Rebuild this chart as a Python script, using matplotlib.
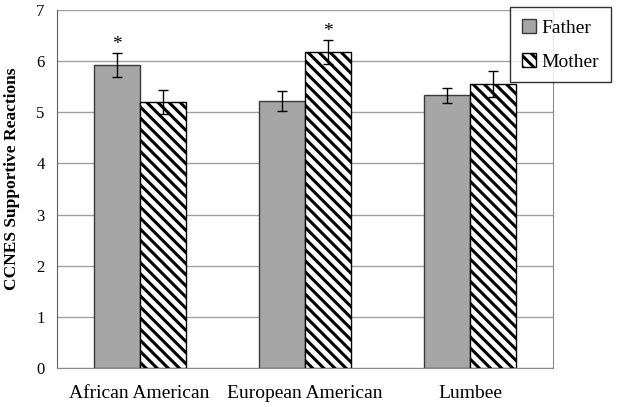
import numpy as np
import matplotlib
matplotlib.use("Agg")
import matplotlib.pyplot as plt

groups = ["African American", "European American", "Lumbee"]
father = [5.92, 5.22, 5.33]
mother = [5.20, 6.18, 5.55]
father_err = [0.23, 0.20, 0.14]
mother_err = [0.23, 0.23, 0.26]
father_sig = [True, False, False]
mother_sig = [False, True, False]

plt.rcParams['font.family'] = ['Liberation Serif', 'DejaVu Serif']
plt.rcParams['hatch.linewidth'] = 2.2

fig = plt.figure(figsize=(6.21, 4.07), dpi=100)
ax = fig.add_axes([0.0918, 0.0958, 0.7987, 0.8796])

x = np.arange(len(groups))
w = 0.278
b1 = ax.bar(x - w / 2, father, w, color="#a6a6a6", edgecolor="#3a3a3a", linewidth=1.0,
            label="Father", zorder=3)
b2 = ax.bar(x + w / 2, mother, w, color="white", edgecolor="black", hatch="\\\\\\",
            linewidth=1.0, label="Mother", zorder=3)

ax.errorbar(x - w / 2, father, yerr=father_err, fmt="none", ecolor="black",
            elinewidth=1.0, capsize=3.5, capthick=1.0, zorder=4)
ax.errorbar(x + w / 2, mother, yerr=mother_err, fmt="none", ecolor="black",
            elinewidth=1.0, capsize=3.5, capthick=1.0, zorder=4)

for i in range(len(groups)):
    if father_sig[i]:
        ax.text(x[i] - w / 2, father[i] + father_err[i], "*", ha="center",
                va="bottom", fontsize=14)
    if mother_sig[i]:
        ax.text(x[i] + w / 2, mother[i] + mother_err[i], "*", ha="center",
                va="bottom", fontsize=14)

ax.set_xlim(-0.5, 2.5)
ax.set_ylim(0, 7)
ax.set_yticks(range(0, 8))
ax.yaxis.grid(True, color="#a0a0a0", linewidth=1.0, zorder=0)
ax.set_axisbelow(True)
ax.set_xticks(x)
ax.set_xticklabels(groups, fontsize=14)
ax.tick_params(axis="y", labelsize=12, length=0, pad=9)
ax.tick_params(axis="x", length=0, pad=12)

ax.spines["top"].set_visible(False)
ax.spines["left"].set_color("#606060")
ax.spines["right"].set_color("#8a8a8a")
ax.spines["bottom"].set_color("#8a8a8a")

ax.set_ylabel("CCNES Supportive Reactions", fontsize=12.5, fontweight="bold")
ax.yaxis.set_label_coords(-0.075, 0.53)

leg = fig.legend(handles=[b1, b2], loc="upper left", bbox_to_anchor=(0.822, 0.982),
                 fontsize=14, frameon=True, fancybox=False, edgecolor="black",
                 borderpad=0.6, labelspacing=0.85, handlelength=0.7, handleheight=0.7,
                 handletextpad=0.3, borderaxespad=0)
leg.get_frame().set_linewidth(1.0)

fig.savefig("out.png", dpi=100)
